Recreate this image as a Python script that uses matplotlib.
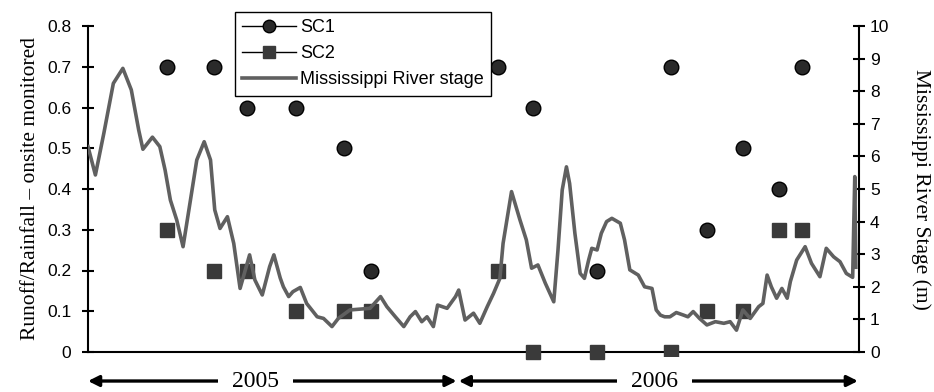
import matplotlib.pyplot as plt
from matplotlib.lines import Line2D

plt.rcParams['font.family'] = 'Liberation Sans'

# sampling dates, days from start of record
sample_day = [75, 119, 151, 197, 242, 268, 388, 421, 482, 552, 586, 620, 654, 676]
sc1_ratio = [0.7, 0.7, 0.6, 0.6, 0.5, 0.2, 0.7, 0.6, 0.2, 0.7, 0.3, 0.5, 0.4, 0.7]
sc2_ratio = [0.3, 0.2, 0.2, 0.1, 0.1, 0.1, 0.2, 0.0, 0.0, 0.0, 0.1, 0.1, 0.3, 0.3]

# Mississippi River stage (m)
stage_day = [0, 7, 15, 24, 33, 41, 48, 52, 61, 68, 73, 78, 84, 90, 97, 103, 110, 116,
             120, 125, 132, 138, 144, 153, 158, 165, 172, 176, 182, 185, 190, 194, 201,
             207, 217, 223, 231, 237, 248, 267, 277, 283, 291, 299, 305, 310, 316, 321,
             327, 331, 340, 348, 351, 357, 365, 371, 378, 384, 390, 393, 401, 409, 415,
             420, 426, 433, 441, 445, 449, 453, 456, 461, 466, 470, 474, 477, 482, 486,
             491, 496, 504, 508, 513, 521, 527, 534, 538, 542, 546, 551, 557, 564, 568,
             573, 579, 586, 594, 602, 608, 614, 620, 627, 635, 639, 643, 647, 652, 657,
             662, 665, 671, 679, 685, 693, 699, 706, 712, 718, 724, 726, 727]
stage_m = [6.30, 5.43, 6.71, 8.24, 8.70, 8.04, 6.81, 6.22, 6.59, 6.30, 5.58, 4.66, 4.05,
           3.23, 4.66, 5.89, 6.45, 5.89, 4.36, 3.79, 4.15, 3.33, 1.95, 2.98, 2.21, 1.75,
           2.62, 2.98, 2.27, 2.00, 1.70, 1.85, 1.98, 1.49, 1.08, 1.03, 0.78, 1.03, 1.29,
           1.34, 1.70, 1.39, 1.08, 0.78, 1.08, 1.24, 0.93, 1.08, 0.78, 1.44, 1.34, 1.70,
           1.90, 0.98, 1.19, 0.88, 1.39, 1.80, 2.26, 3.33, 4.92, 4.05, 3.44, 2.57, 2.67,
           2.11, 1.54, 3.13, 4.97, 5.68, 5.17, 3.64, 2.41, 2.26, 2.82, 3.18, 3.13, 3.64,
           4.00, 4.10, 3.95, 3.44, 2.52, 2.36, 2.00, 1.95, 1.29, 1.13, 1.08, 1.08, 1.21,
           1.13, 1.08, 1.24, 1.03, 0.83, 0.93, 0.88, 0.93, 0.67, 1.29, 1.03, 1.39, 1.49,
           2.36, 2.00, 1.65, 1.95, 1.65, 2.16, 2.82, 3.23, 2.72, 2.31, 3.18, 2.92, 2.77,
           2.41, 2.29, 5.38, 2.60]

years = ['2005', '2006']
year_span = [(0, 349), (351, 729)]
year_mid = [159, 536]

fig = plt.figure(figsize=(9.34, 3.92), dpi=100)
ax = fig.add_axes([88/934, 1 - 352/392, (859-88)/934, (352-26)/392])
ax2 = ax.twinx()

ax.plot(sample_day, sc1_ratio, 'o', ms=10.5, mfc='#2a2a2a', mec='black', mew=1.0,
        clip_on=False, zorder=3)
ax.plot(sample_day, sc2_ratio, 's', ms=10.5, mfc='#3a3a3a', mec='#3a3a3a',
        clip_on=False, zorder=3)
ax2.plot(stage_day, stage_m, '-', color='#606060', lw=2.6, solid_joinstyle='round')

ax.set_xlim(0, 730)
ax.set_ylim(0, 0.8)
ax2.set_ylim(0, 10)
ax.set_yticks([i/10 for i in range(9)])
ax.set_yticklabels(['0'] + ['0.%d' % i for i in range(1, 9)])
ax2.set_yticks(range(11))
ax.set_xticks([])

for a in (ax, ax2):
    a.spines['top'].set_visible(False)
    for s in a.spines.values():
        s.set_linewidth(1.5)
ax.spines['right'].set_visible(False)
ax2.spines['left'].set_visible(False)
ax2.spines['bottom'].set_visible(False)

ax.tick_params(axis='y', direction='inout', length=8, width=1.5, labelsize=12.5, pad=8)
ax2.tick_params(axis='y', direction='inout', length=8, width=1.5, labelsize=12.5, pad=4)

ax.set_ylabel('Runoff/Rainfall \u2013 onsite monitored', family='Liberation Serif',
              fontsize=15.5, labelpad=5)
ax2.set_ylabel('Mississippi River Stage (m)', family='Liberation Serif', fontsize=15.5,
               rotation=270, labelpad=30)

# year arrows under the axis
for yr, (x0, x1), xm in zip(years, year_span, year_mid):
    ax.annotate('', xy=(x0, -0.089), xytext=(x1, -0.089),
                xycoords=('data', 'axes fraction'), textcoords=('data', 'axes fraction'),
                arrowprops=dict(arrowstyle='<|-|>', lw=2.4, color='black',
                                mutation_scale=16, shrinkA=0, shrinkB=0),
                annotation_clip=False)
    ax.text(xm, -0.089, yr, transform=ax.get_xaxis_transform(), ha='center', va='center',
            family='Liberation Serif', fontsize=17,
            bbox=dict(facecolor='white', edgecolor='none', pad=10))

handles = [
    Line2D([], [], color='black', lw=1, marker='o', ms=9, mfc='#2a2a2a', mec='black'),
    Line2D([], [], color='black', lw=1, marker='s', ms=9, mfc='#3a3a3a', mec='#3a3a3a'),
    Line2D([], [], color='#606060', lw=2.6),
]
leg = ax2.legend(handles, ['SC1', 'SC2', 'Mississippi River stage'],
                 loc='upper left', bbox_to_anchor=(235/934, 1 - 12/392),
                 bbox_transform=fig.transFigure, borderaxespad=0, fancybox=False,
                 edgecolor='black', framealpha=1, fontsize=13, handlelength=3.0,
                 handletextpad=0.2, labelspacing=0.5, borderpad=0.4)
leg.get_frame().set_linewidth(1.0)

fig.savefig('out.png', dpi=100)
